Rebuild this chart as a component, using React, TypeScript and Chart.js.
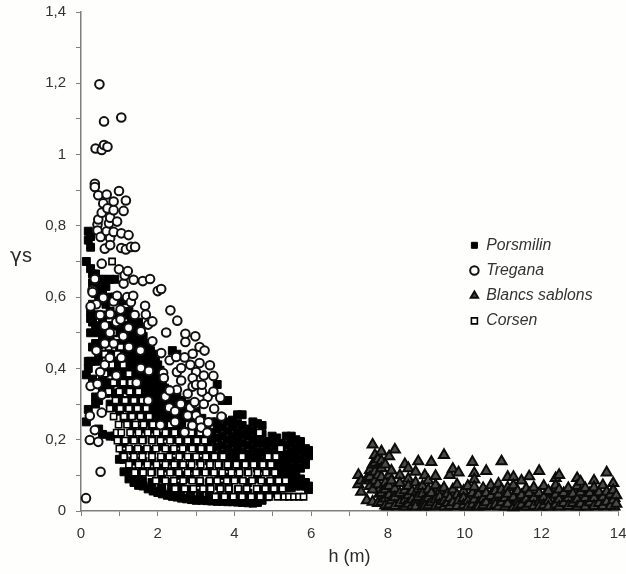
import React, { useEffect, useRef } from "react";
import { Chart, registerables } from "chart.js";

Chart.register(...registerables);

type Column = [number, number[]];
type Row = [number, number[]];
const seriesNames = ["Porsmilin", "Tregana", "Blancs sablons", "Corsen"];
const axisTitleX = "h (m)";
const axisTitleY = "\u03B3";
const axisTitleYSuffix = "s";

const porsmilin: Column[] = [
  [0.14, [0.7, 0.382, 0.25]],
  [0.19, [0.785, 0.76, 0.42, 0.285, 0.4]],
  [0.25, [0.77, 0.74, 0.68, 0.56, 0.54, 0.5, 0.42]],
  [0.3, [0.665, 0.64, 0.58, 0.53, 0.46, 0.37]],
  [0.38, [0.665, 0.61, 0.55, 0.52, 0.47, 0.42, 0.32, 0.3]],
  [0.46, [0.65, 0.63, 0.6, 0.55, 0.5, 0.465, 0.43, 0.36, 0.31, 0.23]],
  [0.56, [0.65, 0.62, 0.59, 0.53, 0.49, 0.44, 0.38, 0.34, 0.215]],
  [0.65, [0.65, 0.63, 0.58, 0.55, 0.5, 0.47, 0.41, 0.36, 0.33]],
  [0.76, [0.65, 0.6, 0.56, 0.52, 0.48, 0.44, 0.39, 0.34, 0.3, 0.21]],
  [0.88, [0.65, 0.6, 0.55, 0.51, 0.47, 0.43, 0.4, 0.36, 0.33, 0.29, 0.21]],
  [1.0, [0.59, 0.54, 0.5, 0.45, 0.41, 0.37, 0.33, 0.28, 0.2, 0.145]],
  [1.12, [0.59, 0.52, 0.48, 0.44, 0.4, 0.36, 0.31, 0.26, 0.145, 0.11]],
  [1.25, [0.56, 0.5, 0.46, 0.42, 0.38, 0.34, 0.3, 0.25, 0.11, 0.09]],
  [1.38, [0.55, 0.5, 0.46, 0.42, 0.38, 0.35, 0.31, 0.1, 0.08]],
  [1.5, [0.53, 0.49, 0.45, 0.41, 0.38, 0.34, 0.3, 0.085, 0.072]],
  [1.62, [0.49, 0.45, 0.42, 0.38, 0.34, 0.3, 0.26, 0.07]],
  [1.75, [0.47, 0.43, 0.4, 0.37, 0.33, 0.29, 0.25, 0.062]],
  [1.88, [0.44, 0.41, 0.38, 0.35, 0.31, 0.28, 0.24, 0.056]],
  [2.0, [0.41, 0.38, 0.35, 0.32, 0.29, 0.25, 0.052]],
  [2.12, [0.36, 0.33, 0.3, 0.27, 0.24, 0.048]],
  [2.25, [0.34, 0.31, 0.28, 0.25, 0.22, 0.044]],
  [2.38, [0.45, 0.33, 0.3, 0.27, 0.24, 0.041]],
  [2.5, [0.44, 0.32, 0.29, 0.26, 0.23, 0.039]],
  [2.62, [0.31, 0.28, 0.25, 0.22, 0.036]],
  [2.75, [0.3, 0.27, 0.24, 0.21, 0.034]],
  [2.88, [0.3, 0.26, 0.23, 0.2, 0.032]],
  [3.0, [0.28, 0.25, 0.22, 0.19, 0.03]],
  [3.15, [0.26, 0.23, 0.2, 0.03]],
  [3.28, [0.24, 0.21, 0.19, 0.17, 0.029]],
  [3.4, [0.25, 0.22, 0.2, 0.175, 0.15, 0.028]],
  [3.55, [0.355, 0.25, 0.23, 0.205, 0.18, 0.155, 0.027]],
  [3.68, [0.31, 0.26, 0.235, 0.21, 0.185, 0.16, 0.027]],
  [3.82, [0.31, 0.25, 0.225, 0.2, 0.175, 0.15, 0.026]],
  [3.95, [0.255, 0.235, 0.21, 0.19, 0.165, 0.145, 0.026]],
  [4.08, [0.27, 0.245, 0.22, 0.195, 0.17, 0.15, 0.025]],
  [4.2, [0.27, 0.24, 0.215, 0.19, 0.165, 0.14, 0.024]],
  [4.35, [0.23, 0.21, 0.185, 0.16, 0.14, 0.023]],
  [4.48, [0.25, 0.225, 0.2, 0.175, 0.15, 0.135, 0.022]],
  [4.6, [0.245, 0.215, 0.19, 0.165, 0.145, 0.024]],
  [4.72, [0.24, 0.215, 0.19, 0.165, 0.14, 0.03]],
  [4.85, [0.195, 0.175, 0.155, 0.135, 0.04]],
  [4.98, [0.21, 0.19, 0.165, 0.145, 0.125, 0.05]],
  [5.1, [0.205, 0.18, 0.16, 0.14, 0.12, 0.06]],
  [5.22, [0.19, 0.17, 0.145, 0.125, 0.105, 0.07]],
  [5.35, [0.21, 0.185, 0.16, 0.14, 0.12, 0.1, 0.08, 0.065]],
  [5.48, [0.21, 0.19, 0.165, 0.145, 0.12, 0.1, 0.08, 0.065]],
  [5.6, [0.2, 0.175, 0.15, 0.125, 0.1, 0.085, 0.07]],
  [5.72, [0.195, 0.17, 0.145, 0.12, 0.09, 0.07]],
  [5.85, [0.175, 0.15, 0.13, 0.08, 0.07]],
  [5.93, [0.17, 0.155, 0.07, 0.06]],
];

const porsmilinUpper: Column[] = [
  [1.06, [0.56, 0.52, 0.47, 0.43, 0.39, 0.35, 0.31]],
  [1.18, [0.55, 0.5, 0.46, 0.42, 0.38, 0.34, 0.29]],
  [1.31, [0.53, 0.48, 0.44, 0.4, 0.36, 0.32, 0.28]],
  [1.44, [0.52, 0.48, 0.44, 0.4, 0.365, 0.33, 0.29]],
  [1.56, [0.51, 0.47, 0.43, 0.39, 0.36, 0.32, 0.28]],
  [1.68, [0.47, 0.43, 0.4, 0.36, 0.32, 0.28]],
  [1.81, [0.45, 0.42, 0.385, 0.35, 0.31, 0.27]],
  [1.94, [0.42, 0.395, 0.36, 0.33, 0.295, 0.26]],
  [2.06, [0.395, 0.365, 0.335, 0.305, 0.27]],
  [2.18, [0.345, 0.315, 0.285, 0.255]],
  [2.31, [0.325, 0.295, 0.265, 0.235]],
  [2.44, [0.315, 0.285, 0.255, 0.225]],
  [2.56, [0.305, 0.275, 0.245]],
  [2.69, [0.295, 0.265, 0.235]],
  [2.82, [0.285, 0.255, 0.225]],
];

const porsmilinLower: Column[] = [
  [1.1, [0.19, 0.16]],
  [1.35, [0.27, 0.23, 0.2, 0.17, 0.14, 0.11]],
  [1.6, [0.26, 0.23, 0.2, 0.17, 0.14, 0.11, 0.085]],
  [1.85, [0.23, 0.2, 0.17, 0.14, 0.11, 0.08]],
  [2.1, [0.21, 0.18, 0.15, 0.12, 0.09, 0.065]],
  [2.35, [0.2, 0.17, 0.14, 0.11, 0.08, 0.055]],
  [2.6, [0.19, 0.16, 0.13, 0.1, 0.07, 0.05]],
  [2.85, [0.18, 0.15, 0.12, 0.09, 0.06, 0.045]],
  [3.1, [0.17, 0.14, 0.11, 0.08, 0.05]],
  [3.35, [0.14, 0.11, 0.08, 0.05, 0.04]],
  [3.6, [0.13, 0.1, 0.07, 0.04]],
  [3.85, [0.125, 0.095, 0.065, 0.04]],
  [4.1, [0.12, 0.09, 0.06, 0.035]],
  [4.35, [0.11, 0.08, 0.05, 0.03]],
  [4.6, [0.12, 0.09, 0.06, 0.04]],
  [4.85, [0.11, 0.08, 0.055]],
  [5.1, [0.1, 0.075]],
];

const tregana: Column[] = [
  [0.13, [0.036]],
  [0.23, [0.267, 0.199]],
  [0.25, [0.351, 0.574]],
  [0.3, [0.62, 0.614]],
  [0.36, [0.918, 0.909, 0.651, 0.227]],
  [0.38, [1.017]],
  [0.43, [0.804, 0.787, 0.356]],
  [0.45, [0.886, 0.818, 0.194]],
  [0.48, [1.197]],
  [0.51, [0.769, 0.11]],
  [0.54, [1.013, 0.837, 0.694, 0.326, 0.276]],
  [0.58, [0.863, 0.598]],
  [0.6, [1.093, 1.027]],
  [0.62, [0.736]],
  [0.67, [0.888, 0.785]],
  [0.69, [1.022, 0.849]],
  [0.73, [0.807]],
  [0.76, [0.823, 0.765, 0.746, 0.553]],
  [0.85, [0.868, 0.844, 0.783, 0.588]],
  [0.94, [0.812, 0.604]],
  [0.99, [0.898, 0.678]],
  [1.03, [0.565, 0.537]],
  [1.05, [1.104, 0.779, 0.738]],
  [1.11, [0.842, 0.638]],
  [1.14, [0.661]],
  [1.17, [0.871, 0.734]],
  [1.22, [0.673]],
  [1.24, [0.774, 0.514]],
  [1.3, [0.741, 0.586]],
  [1.36, [0.604]],
  [1.37, [0.649]],
  [1.41, [0.741]],
  [1.56, [0.504, 0.401]],
  [1.61, [0.645]],
  [1.67, [0.576]],
  [1.69, [0.551]],
  [1.75, [0.523, 0.31]],
  [1.77, [0.393]],
  [1.8, [0.651]],
  [1.86, [0.532, 0.476]],
  [2.0, [0.617]],
  [2.07, [0.241]],
  [2.09, [0.623, 0.443]],
  [2.14, [0.387]],
  [2.16, [0.373]],
  [2.2, [0.321]],
  [2.22, [0.501]],
  [2.31, [0.423, 0.338]],
  [2.33, [0.563]],
  [2.48, [0.432]],
  [2.51, [0.534]],
  [2.61, [0.401, 0.366]],
  [2.7, [0.431, 0.221]],
  [2.72, [0.497, 0.474]],
  [2.78, [0.329, 0.268]],
  [2.91, [0.441, 0.373, 0.349]],
  [2.96, [0.306]],
  [2.98, [0.49]],
  [3.0, [0.354, 0.268]],
  [3.09, [0.46, 0.415]],
  [3.1, [0.254]],
  [3.13, [0.234]],
  [3.15, [0.335, 0.354]],
  [3.2, [0.3]],
  [3.22, [0.45]],
  [3.29, [0.22]],
  [3.32, [0.249]],
  [3.36, [0.409]],
  [3.45, [0.379, 0.335]],
  [3.47, [0.287]],
  [3.63, [0.318]],
  [3.66, [0.265]],
];

const treganaInner: Column[] = [
  [0.4, [0.58, 0.45]],
  [0.5, [0.55, 0.39]],
  [0.62, [0.52, 0.47, 0.41]],
  [0.75, [0.5, 0.43]],
  [0.85, [0.47]],
  [0.92, [0.53, 0.38]],
  [1.05, [0.43]],
  [1.1, [0.49]],
  [1.2, [0.6]],
  [1.25, [0.46]],
  [1.4, [0.55]],
  [1.45, [0.36]],
  [1.55, [0.45]],
  [2.3, [0.29]],
  [2.45, [0.28, 0.25]],
  [2.5, [0.34, 0.39]],
  [2.6, [0.3]],
  [2.85, [0.29, 0.41]],
  [2.9, [0.24]],
  [3.0, [0.3, 0.39]],
  [3.2, [0.38]],
  [3.3, [0.32]],
];

const blancsSablons: Column[] = [
  [7.23, [0.101, 0.075]],
  [7.3, [0.054, 0.085]],
  [7.45, [0.03, 0.09]],
  [7.53, [0.115, 0.095, 0.07]],
  [7.6, [0.186, 0.13, 0.06, 0.026]],
  [7.66, [0.157, 0.135, 0.11, 0.085]],
  [7.74, [0.145, 0.1, 0.075, 0.022]],
  [7.83, [0.167, 0.14, 0.12, 0.095, 0.05, 0.025]],
  [7.93, [0.13, 0.08, 0.06, 0.035, 0.015]],
  [8.03, [0.153, 0.1, 0.07, 0.045, 0.018]],
  [8.09, [0.113, 0.085, 0.03]],
  [8.18, [0.172, 0.062, 0.038, 0.014]],
  [8.31, [0.1, 0.078, 0.05, 0.022]],
  [8.44, [0.131, 0.058, 0.03, 0.012]],
  [8.53, [0.12, 0.09, 0.07, 0.044, 0.02]],
  [8.63, [0.055, 0.032, 0.014]],
  [8.72, [0.11, 0.08, 0.024, 0.012]],
  [8.79, [0.139, 0.062, 0.04]],
  [8.9, [0.07, 0.048, 0.025, 0.012]],
  [8.96, [0.1, 0.03, 0.013]],
  [9.05, [0.085, 0.06, 0.036, 0.016]],
  [9.13, [0.137, 0.05, 0.024]],
  [9.24, [0.098, 0.072, 0.032, 0.013]],
  [9.35, [0.056, 0.04, 0.018]],
  [9.46, [0.157, 0.065, 0.028, 0.012]],
  [9.55, [0.048, 0.022]],
  [9.61, [0.101, 0.036, 0.014]],
  [9.69, [0.118, 0.06, 0.024]],
  [9.8, [0.074, 0.045, 0.014]],
  [9.84, [0.108, 0.03]],
  [9.97, [0.056, 0.036, 0.016]],
  [10.08, [0.07, 0.028, 0.012]],
  [10.2, [0.137, 0.05, 0.018]],
  [10.25, [0.106, 0.088, 0.068, 0.032]],
  [10.36, [0.046, 0.022, 0.012]],
  [10.48, [0.064, 0.034, 0.016]],
  [10.56, [0.112, 0.05, 0.024]],
  [10.68, [0.072, 0.042, 0.014]],
  [10.8, [0.056, 0.03, 0.018]],
  [10.88, [0.076, 0.046, 0.012]],
  [10.96, [0.139, 0.06, 0.024]],
  [11.05, [0.036, 0.012]],
  [11.12, [0.095, 0.066, 0.048, 0.02]],
  [11.27, [0.095, 0.072, 0.038, 0.01]],
  [11.38, [0.056, 0.026, 0.014]],
  [11.48, [0.085, 0.044, 0.018]],
  [11.6, [0.062, 0.032, 0.012]],
  [11.68, [0.097, 0.05, 0.02]],
  [11.8, [0.066, 0.036, 0.014]],
  [11.94, [0.112, 0.05, 0.026, 0.012]],
  [12.06, [0.07, 0.038, 0.016]],
  [12.18, [0.056, 0.028, 0.012]],
  [12.37, [0.092, 0.072, 0.046, 0.018]],
  [12.46, [0.101, 0.06, 0.032, 0.012]],
  [12.58, [0.05, 0.022]],
  [12.7, [0.064, 0.036, 0.014]],
  [12.82, [0.048, 0.022]],
  [12.93, [0.092, 0.07, 0.032, 0.012]],
  [13.02, [0.082, 0.052, 0.02]],
  [13.14, [0.064, 0.036, 0.012]],
  [13.26, [0.05, 0.024]],
  [13.37, [0.085, 0.066, 0.036, 0.014]],
  [13.5, [0.052, 0.022]],
  [13.6, [0.072, 0.038, 0.014]],
  [13.7, [0.108, 0.054, 0.026]],
  [13.8, [0.046, 0.014]],
  [13.87, [0.078, 0.058, 0.03]],
  [13.95, [0.044, 0.02]],
];

const blancsSablonsLower: Column[] = [
  [7.78, [0.048, 0.06]],
  [7.98, [0.025, 0.012]],
  [8.14, [0.02, 0.05]],
  [8.25, [0.012, 0.035]],
  [8.38, [0.045, 0.016]],
  [8.58, [0.03, 0.012]],
  [8.68, [0.045, 0.02]],
  [8.85, [0.032, 0.016, 0.052]],
  [9.0, [0.05, 0.02]],
  [9.1, [0.03, 0.012]],
  [9.2, [0.05, 0.016]],
  [9.3, [0.026, 0.062]],
  [9.42, [0.04, 0.014]],
  [9.52, [0.03, 0.012]],
  [9.66, [0.046, 0.018]],
  [9.76, [0.03, 0.012]],
  [9.9, [0.042, 0.02]],
  [10.02, [0.046, 0.012]],
  [10.14, [0.036, 0.016]],
  [10.3, [0.05, 0.012]],
  [10.42, [0.036, 0.014]],
  [10.52, [0.03, 0.012]],
  [10.62, [0.036, 0.014]],
  [10.74, [0.028, 0.054]],
  [10.92, [0.03, 0.016]],
  [11.02, [0.05, 0.02]],
  [11.18, [0.034, 0.012]],
  [11.32, [0.05, 0.02]],
  [11.44, [0.034, 0.012]],
  [11.54, [0.046, 0.018]],
  [11.64, [0.034, 0.012]],
  [11.74, [0.03, 0.012]],
  [11.88, [0.04, 0.016]],
  [12.0, [0.03, 0.012]],
  [12.12, [0.046, 0.02]],
  [12.26, [0.05, 0.032, 0.012]],
  [12.42, [0.03, 0.014]],
  [12.52, [0.044, 0.014]],
  [12.64, [0.034, 0.012]],
  [12.76, [0.03, 0.014]],
  [12.88, [0.05, 0.016]],
  [12.98, [0.034, 0.012]],
  [13.08, [0.044, 0.016]],
  [13.2, [0.03, 0.012]],
  [13.32, [0.05, 0.018]],
  [13.44, [0.03, 0.012]],
  [13.55, [0.04, 0.016]],
  [13.66, [0.03, 0.012]],
  [13.75, [0.04, 0.016]],
  [13.9, [0.036, 0.012]],
];

const corsenRows: Row[] = [
  [0.04, [3.5, 3.74, 3.97, 4.2, 4.44, 4.67, 4.9, 5.12, 5.3, 5.42, 5.55, 5.68, 5.8]],
  [0.0625, [2.45, 2.7, 2.93, 3.18, 3.38, 3.63, 3.85, 4.1, 4.32, 4.58, 4.8, 5.03, 5.25]],
  [0.085, [1.95, 2.2, 2.42, 2.66, 2.9, 3.1, 3.35, 3.55, 3.8, 4.0, 4.22, 4.46, 4.7, 4.93, 5.15, 5.33]],
  [0.1075, [1.4, 1.62, 1.83, 2.08, 2.32, 2.55, 2.78, 3.0, 3.24, 3.47, 3.68, 3.92, 4.13, 4.36, 4.6, 4.82, 5.05]],
  [0.13, [1.25, 1.5, 1.73, 1.97, 2.2, 2.43, 2.66, 2.88, 3.12, 3.36, 3.58, 3.82, 4.05, 4.28, 4.5, 4.74, 4.95]],
  [0.1525, [1.12, 1.38, 1.6, 1.85, 2.08, 2.3, 2.56, 2.78, 3.0, 3.25, 3.48, 3.7, 4.2, 4.88, 5.08]],
  [0.175, [1.0, 1.25, 1.48, 1.72, 1.95, 2.2, 2.42, 2.65, 2.9, 3.13, 3.36, 5.2]],
  [0.1975, [0.95, 1.15, 1.38, 1.6, 1.85, 2.07, 2.32, 2.55, 2.78, 3.02, 3.22]],
  [0.22, [0.93, 1.05, 1.28, 1.5, 1.74, 1.97, 2.2, 2.44, 2.66, 2.88, 3.1, 4.65]],
  [0.2425, [0.98, 1.2, 1.42, 1.63, 1.87, 2.33, 2.8]],
  [0.265, [0.85, 1.12, 1.33, 1.55, 1.78]],
  [0.2875, [0.75, 1.02, 1.25, 1.47, 1.7]],
  [0.31, [0.9, 1.15, 1.38, 1.6]],
  [0.335, [0.72, 1.0, 1.27, 1.5]],
  [0.36, [0.85, 1.1, 1.3]],
  [0.385, [0.62, 0.95, 1.25]],
  [0.41, [0.8, 1.1]],
  [0.44, [0.62, 0.95]],
  [0.46, [0.72, 1.03]],
  [0.5, [0.84]],
  [0.7, [0.81]],
];

const toPoints = (columns: Column[]) =>
  columns.flatMap(([x, ys]) => ys.map((y) => ({ x, y })));
const rowsToPoints = (rows: Row[]) =>
  rows.flatMap(([y, xs]) => xs.map((x) => ({ x, y })));

const legendPlacement = {
  id: "legendPlacement",
  afterLayout(chart: any) {
    const legend = chart.legend;
    legend.left = 461;
    legend.right = 620;
    legend.top = 228;
    legend.bottom = 340;
  },
};

const gammaLabel = {
  id: "gammaLabel",
  afterDraw(chart: any) {
    const { ctx } = chart;
    ctx.save();
    ctx.fillStyle = "#2a2a2a";
    ctx.textBaseline = "alphabetic";
    ctx.font = "20px 'DejaVu Sans'";
    ctx.fillText(axisTitleY, 10, 262);
    ctx.font = "20px 'Liberation Sans'";
    ctx.fillText(axisTitleYSuffix, 22, 262);
    ctx.restore();
  },
};

export default function App() {
  const ref = useRef<HTMLCanvasElement>(null);

  useEffect(() => {
    const tickFont = { family: "'Liberation Sans'", size: 15 };
    const chart = new Chart(ref.current!, {
      type: "scatter",
      data: {
        datasets: [
          {
            label: seriesNames[0],
            data: [...toPoints(porsmilin), ...toPoints(porsmilinUpper), ...toPoints(porsmilinLower)],
            order: 4,
            pointStyle: "rect",
            pointRadius: 5.6,
            borderWidth: 1,
            borderColor: "#000000",
            backgroundColor: "#000000",
            clip: false,
          },
          {
            label: seriesNames[1],
            data: [...toPoints(treganaInner), ...toPoints(tregana)],
            order: 1,
            pointStyle: "circle",
            pointRadius: 4.3,
            borderWidth: 2,
            borderColor: "#111111",
            backgroundColor: "#ffffff",
            clip: false,
          },
          {
            label: seriesNames[2],
            data: [...toPoints(blancsSablonsLower), ...toPoints(blancsSablons)],
            order: 3,
            pointStyle: "triangle",
            pointRadius: 5.8,
            borderWidth: 2,
            borderColor: "#0c0c0c",
            backgroundColor: "#4a4a46",
            clip: false,
          },
          {
            label: seriesNames[3],
            data: rowsToPoints(corsenRows),
            order: 2,
            pointStyle: "rect",
            pointRadius: 4.4,
            borderWidth: 1.6,
            borderColor: "#000000",
            backgroundColor: "#ffffff",
            clip: false,
          },
        ] as any,
      },
      options: {
        responsive: false,
        animation: false,
        devicePixelRatio: 1,
        layout: { padding: { top: 12, right: 6, left: 0, bottom: 0 } },
        plugins: {
          tooltip: { enabled: false },
          legend: {
            position: "chartArea",
            align: "start",
            labels: {
              usePointStyle: true,
              boxWidth: 8,
              boxHeight: 6,
              padding: 9.4,
              color: "#333333",
              font: { family: "'Liberation Sans'", size: 15.8, style: "italic" },
              sort: (a: any, b: any) => a.datasetIndex - b.datasetIndex,
            },
          },
        },
        scales: {
          x: {
            type: "linear",
            min: 0,
            max: 14,
            afterFit: (s: any) => {
              s.height = 63;
              s.paddingLeft = 0;
              s.paddingRight = 0;
            },
            border: { color: "#7f7f7f", width: 1.5 },
            grid: { drawOnChartArea: false, drawTicks: true, tickLength: 5, tickColor: "#7f7f7f", tickWidth: 1 },
            ticks: {
              stepSize: 1,
              autoSkip: false,
              maxRotation: 0,
              padding: 9,
              color: "#333333",
              font: tickFont,
              callback: (v: any) => (Number(v) % 2 === 0 ? String(v) : ""),
            },
            title: {
              display: true,
              text: axisTitleX,
              color: "#2a2a2a",
              font: { family: "'Liberation Sans'", size: 18 },
              padding: { top: 0, bottom: 6 },
            },
          },
          y: {
            type: "linear",
            min: 0,
            max: 1.4,
            afterFit: (s: any) => {
              s.width = 81;
              s.paddingTop = 0;
              s.paddingBottom = 0;
            },
            border: { color: "#7f7f7f", width: 1.5 },
            grid: { drawOnChartArea: false, drawTicks: true, tickLength: 5, tickColor: "#7f7f7f", tickWidth: 1 },
            ticks: {
              stepSize: 0.1,
              autoSkip: false,
              padding: 10,
              color: "#333333",
              font: tickFont,
              callback: (v: any) => {
                const tenths = Math.round(Number(v) * 10);
                return tenths % 2 === 0 ? String(tenths / 10).replace(".", ",") : "";
              },
            },
          },
        },
      } as any,
      plugins: [legendPlacement, gammaLabel],
    });
    return () => chart.destroy();
  }, []);

  return (
    <canvas
      ref={ref}
      width={626}
      height={574}
      style={{ position: "absolute", left: 0, top: 0, background: "#fefefc" }}
    />
  );
}
